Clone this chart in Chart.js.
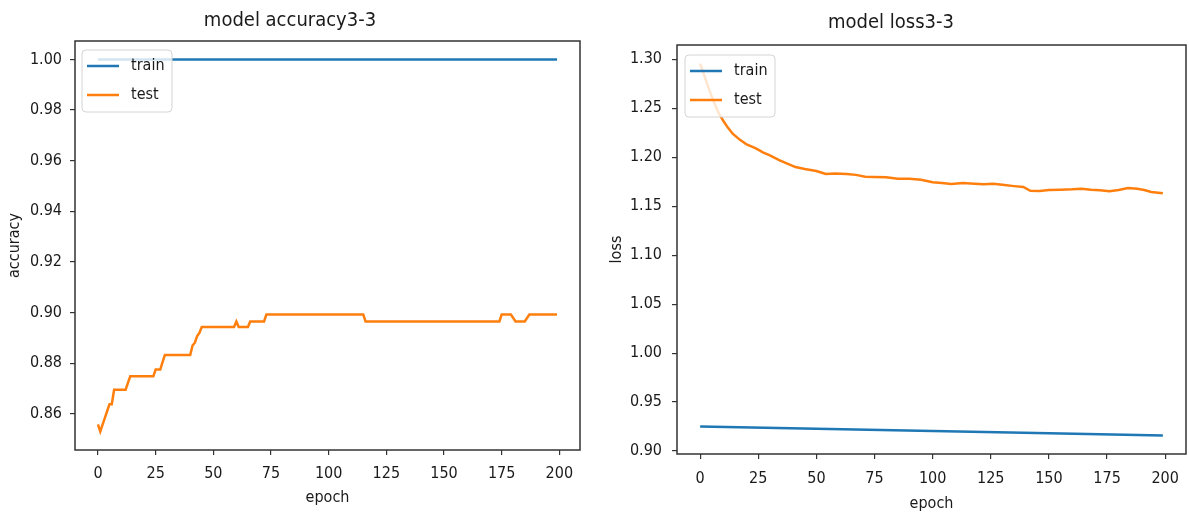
<!DOCTYPE html>
<html>
<head>
<meta charset="utf-8">
<title>model accuracy / loss 3-3</title>
<script src="https://cdn.jsdelivr.net/npm/chart.js@4"></script>
<style>
  html, body { margin: 0; padding: 0; background: #fff; }
  #wrap { position: relative; width: 1189px; height: 514px; overflow: hidden; }
  .panel { position: absolute; top: 0; height: 514px; }
  #accPanel { left: 0; width: 595px; }
  #lossPanel { left: 595px; width: 594px; }
</style>
</head>
<body>
<div id="wrap">
  <div class="panel" id="accPanel"><canvas id="accChart"></canvas></div>
  <div class="panel" id="lossPanel"><canvas id="lossChart"></canvas></div>
</div>
<script>
// ---------------- Data ----------------
const seriesLabels = ["train", "test"];
const epochTicks = [0, 25, 50, 75, 100, 125, 150, 175, 200];
const accTicks = [0.86, 0.88, 0.90, 0.92, 0.94, 0.96, 0.98, 1.00];
const lossTicks = [0.90, 0.95, 1.00, 1.05, 1.10, 1.15, 1.20, 1.25, 1.30];

const accTrainEpochs = [0, 199];
const accTrainValues = [1.0, 1.0];

const accTestEpochs = [0, 1, 2, 3, 4, 5, 6, 7, 12, 13, 14, 24, 25, 27, 28, 29, 40, 41, 42, 43, 44, 45,
  59, 60, 61, 65, 66, 72, 73, 115, 116, 174, 175, 179, 181, 185, 187, 199];
const accTestValues = [0.8558, 0.8530, 0.8557, 0.8584, 0.8611, 0.8638, 0.8638, 0.8695, 0.8695, 0.8722,
  0.8748, 0.8748, 0.8775, 0.8775, 0.8804, 0.8832, 0.8832, 0.8870, 0.8881, 0.8907, 0.8920, 0.8943,
  0.8943, 0.8965, 0.8943, 0.8943, 0.8965, 0.8965, 0.8992, 0.8992, 0.8965, 0.8965, 0.8992, 0.8992,
  0.8965, 0.8965, 0.8992, 0.8992];

const lossTrainEpochs = [0, 50, 100, 150, 199];
const lossTrainValues = [0.9252, 0.9228, 0.9204, 0.9182, 0.9160];

const lossTestEpochs = [0, 2, 4, 6, 8, 10, 12, 14, 17, 20, 24, 27, 30, 34, 38, 41, 45, 50, 54, 58,
  63, 67, 71, 75, 80, 85, 90, 95, 100, 104, 108, 113, 118, 122, 126, 130, 135, 139, 142, 146,
  150, 155, 160, 164, 168, 172, 176, 180, 184, 188, 191, 194, 197, 199];
const lossTestValues = [1.2956, 1.2820, 1.2680, 1.2560, 1.2450, 1.2370, 1.2300, 1.2240, 1.2180, 1.2130,
  1.2090, 1.2050, 1.2020, 1.1970, 1.1930, 1.1900, 1.1880, 1.1860, 1.1830, 1.1835,
  1.1830, 1.1820, 1.1800, 1.1798, 1.1795, 1.1780, 1.1781, 1.1770, 1.1745, 1.1736,
  1.1728, 1.1736, 1.1730, 1.1725, 1.1730, 1.1718, 1.1705, 1.1696, 1.1658, 1.1655,
  1.1665, 1.1668, 1.1672, 1.1679, 1.1668, 1.1662, 1.1652, 1.1665, 1.1685, 1.1678,
  1.1665, 1.1645, 1.1638, 1.1632];

// ---------------- Style ----------------
const FONT = "'DejaVu Sans Condensed', 'DejaVu Sans', sans-serif";
const TEXT = "#1a1a1a";
const AXIS = "#333";
const BLUE = "#1f77b4";
const ORANGE = "#ff7f0e";

Chart.defaults.font.family = FONT;
Chart.defaults.color = TEXT;

function points(xs, ys) {
  return xs.map((x, i) => ({ x: x, y: ys[i] }));
}

// frame round the plot + matplotlib-like legend box in the upper left
const frameLegend = {
  id: "frameLegend",
  afterDraw(chart, args, opts) {
    const { ctx, chartArea: a } = chart;
    ctx.save();
    ctx.strokeStyle = AXIS;
    ctx.lineWidth = 1.5;
    ctx.strokeRect(a.left, a.top, a.right - a.left, a.bottom - a.top);

    const x = a.left + opts.dx, y = a.top + opts.dy;
    ctx.beginPath();
    if (ctx.roundRect) ctx.roundRect(x, y, 90, 62, 4);
    else ctx.rect(x, y, 90, 62);
    ctx.fillStyle = "rgba(255,255,255,0.8)";
    ctx.fill();
    ctx.strokeStyle = "#d4d4d4";
    ctx.lineWidth = 1;
    ctx.stroke();

    ctx.font = "16px " + FONT;
    ctx.textBaseline = "middle";
    chart.data.datasets.forEach((ds, i) => {
      const ry = y + 16 + i * 29;
      ctx.strokeStyle = ds.borderColor;
      ctx.lineWidth = 2.5;
      ctx.beginPath();
      ctx.moveTo(x + 5, ry);
      ctx.lineTo(x + 37, ry);
      ctx.stroke();
      ctx.fillStyle = TEXT;
      ctx.fillText(ds.label, x + 49, ry);
    });
    ctx.restore();
  }
};

function makeChart(id, cfg) {
  const ctx = document.getElementById(id).getContext("2d");
  return new Chart(ctx, {
    type: "line",
    data: {
      datasets: [
        { label: seriesLabels[0], data: cfg.train, borderColor: BLUE, backgroundColor: BLUE },
        { label: seriesLabels[1], data: cfg.test, borderColor: ORANGE, backgroundColor: ORANGE }
      ]
    },
    options: {
      responsive: true,
      maintainAspectRatio: false,
      animation: false,
      devicePixelRatio: 1,
      events: [],
      elements: {
        line: { borderWidth: 2.5, tension: 0, fill: false },
        point: { radius: 0 }
      },
      layout: { padding: { left: 0, right: cfg.padRight, top: 0, bottom: 0 } },
      plugins: {
        legend: { display: false },
        tooltip: { enabled: false },
        title: {
          display: true,
          text: cfg.title,
          color: TEXT,
          font: { size: 20, weight: "normal" },
          padding: { top: cfg.titleTop, bottom: cfg.titleBottom }
        },
        frameLegend: { dx: cfg.legendDx, dy: cfg.legendDy }
      },
      scales: {
        x: {
          type: "linear",
          min: -9.95,
          max: 208.95,
          afterBuildTicks: s => { s.ticks = epochTicks.map(v => ({ value: v })); },
          afterFit: s => { s.height = cfg.xHeight; },
          ticks: { font: { size: 16 }, color: TEXT, padding: cfg.xTickPad, maxRotation: 0, callback: v => String(v) },
          grid: { drawOnChartArea: false, drawTicks: true, tickLength: 5, color: AXIS, lineWidth: 1.2 },
          border: { display: false },
          title: { display: true, text: "epoch", color: TEXT, font: { size: 16 }, padding: { top: 0, bottom: cfg.xTitlePad } }
        },
        y: {
          type: "linear",
          min: cfg.yMin,
          max: cfg.yMax,
          afterBuildTicks: s => { s.ticks = cfg.yTicks.map(v => ({ value: v })); },
          afterFit: s => { s.width = cfg.yWidth; },
          ticks: { font: { size: 16 }, color: TEXT, padding: cfg.yTickPad, callback: v => v.toFixed(2) },
          grid: { drawOnChartArea: false, drawTicks: true, tickLength: 5, color: AXIS, lineWidth: 1.2 },
          border: { display: false },
          title: { display: true, text: cfg.yTitle, color: TEXT, font: { size: 16 }, padding: { top: cfg.yTitlePad, bottom: 0 } }
        }
      }
    },
    plugins: [frameLegend]
  });
}

document.addEventListener("DOMContentLoaded", () => {
  makeChart("accChart", {
    title: "model accuracy3-3",
    train: points(accTrainEpochs, accTrainValues),
    test: points(accTestEpochs, accTestValues),
    yTicks: accTicks,
    yMin: 0.8457,
    yMax: 1.0073,
    yTitle: "accuracy",
    yWidth: 75,
    yTickPad: 8,
    yTitlePad: 5,
    xHeight: 64,
    xTickPad: 9,
    xTitlePad: 7,
    padRight: 15,
    titleTop: 9,
    titleBottom: 8,
    legendDx: 7,
    legendDy: 9
  });

  makeChart("lossChart", {
    title: "model loss3-3",
    train: points(lossTrainEpochs, lossTrainValues),
    test: points(lossTestEpochs, lossTestValues),
    yTicks: lossTicks,
    yMin: 0.8970,
    yMax: 1.3146,
    yTitle: "loss",
    yWidth: 82,
    yTickPad: 10,
    yTitlePad: 12,
    xHeight: 60,
    xTickPad: 10,
    xTitlePad: 1,
    padRight: 2,
    titleTop: 11,
    titleBottom: 10,
    legendDx: 8,
    legendDy: 10
  });
});
</script>
</body>
</html>
